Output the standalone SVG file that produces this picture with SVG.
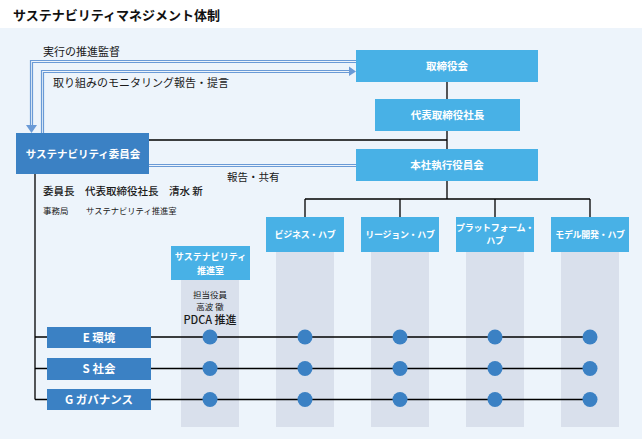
<svg xmlns="http://www.w3.org/2000/svg" width="642" height="439" viewBox="0 0 642 439">
<style>
text{font-family:"Noto Sans CJK JP","Liberation Sans",sans-serif;}
.lb{fill:#48B1E6;}
.db{fill:#3B81C4;}
.wt{fill:#fff;font-weight:bold;text-anchor:middle;}
.bk{fill:#1a1a1a;}
.ln{stroke:#000;stroke-width:1.3;fill:none;}
.dl{stroke:#6A9AD6;stroke-width:1.2;fill:none;}
.col{fill:#D9E0EC;}
.dot{fill:#3B81C4;}
.hub{font-size:9px;letter-spacing:-0.3px;}
</style>
<rect x="0" y="0" width="642" height="439" fill="#fff"/>
<rect x="0" y="28" width="642" height="411" fill="#EDF4FB"/>
<text x="13" y="20" font-size="13" font-weight="bold" fill="#111">サステナビリティマネジメント体制</text>

<g id="columns">
<rect class="col" x="181" y="280" width="58" height="147"/>
<rect class="col" x="276" y="252" width="58" height="175"/>
<rect class="col" x="371" y="252" width="58" height="175"/>
<rect class="col" x="466" y="252" width="58" height="175"/>
<rect class="col" x="561" y="252" width="58" height="175"/>
</g>

<g id="connectors">
<path class="ln" d="M447 82V99M447 131V149M149 140H447"/>
<path class="ln" d="M447 181V199M305 199H590M305 199V217M400 199V217M495 199V217M590 199V217"/>
<path class="ln" d="M35 174V399.5M35 337H47M35 368.5H47M35 399.5H47"/>
<path class="ln" d="M151 337H590M151 368.5H590M151 399.5H590"/>
<path class="dl" d="M356 60.5H30.5V127M356 62.5H32.5V127"/>
<polygon points="26,125 37,125 31.5,133" fill="#6A9AD6"/>
<path class="dl" d="M41.5 133V70.5H350M43.5 133V72.5H350"/>
<polygon points="349,66.5 349,76 356,71.5" fill="#6A9AD6"/>
<path class="dl" d="M149 164.5H356M149 166.5H356"/>
</g>

<text class="bk" x="43" y="56" font-size="11">実行の推進監督</text>
<text class="bk" x="53" y="87" font-size="11">取り組みのモニタリング報告・提言</text>
<text class="bk" x="227" y="181" font-size="10.5">報告・共有</text>

<g id="board">
<rect class="lb" x="356" y="50" width="182" height="32"/>
<text class="wt" x="447" y="70" font-size="10.5">取締役会</text>
</g>
<g id="president">
<rect class="lb" x="375" y="99" width="145" height="32"/>
<text class="wt" x="447.5" y="119" font-size="10.5">代表取締役社長</text>
</g>
<g id="exec">
<rect class="lb" x="356" y="149" width="182" height="32"/>
<text class="wt" x="447" y="169" font-size="10.5">本社執行役員会</text>
</g>
<g id="committee">
<rect class="db" x="16" y="133" width="133" height="41"/>
<text class="wt" x="83" y="157.5" font-size="10.5">サステナビリティ委員会</text>
<text class="bk" x="43" y="195" font-size="10.5" font-weight="500">委員長　代表取締役社長　清水 新</text>
<text class="bk" x="43" y="214" font-size="8.5">事務局</text>
<text class="bk" x="86" y="214" font-size="8.3">サステナビリティ推進室</text>
</g>

<g id="hub1">
<rect class="lb" x="266" y="217" width="78" height="35"/>
<text class="wt hub" x="305" y="238">ビジネス・ハブ</text>
</g>
<g id="hub2">
<rect class="lb" x="361" y="217" width="78" height="35"/>
<text class="wt hub" x="400" y="238">リージョン・ハブ</text>
</g>
<g id="hub3">
<rect class="lb" x="456" y="217" width="78" height="35"/>
<text class="wt hub" x="495" y="231" letter-spacing="-0.9">プラットフォーム・</text>
<text class="wt hub" x="495" y="244">ハブ</text>
</g>
<g id="hub4">
<rect class="lb" x="551" y="217" width="78" height="35"/>
<text class="wt hub" x="590" y="238">モデル開発・ハブ</text>
</g>
<g id="office">
<rect class="lb" x="171" y="246" width="79" height="34"/>
<text class="wt" x="210.5" y="260" font-size="9">サステナビリティ</text>
<text class="wt" x="210.5" y="274" font-size="9">推進室</text>
<text class="bk" x="210" y="298" font-size="8.5" text-anchor="middle">担当役員</text>
<text class="bk" x="210" y="310" font-size="8.5" text-anchor="middle">高波 徹</text>
<text class="bk" x="210" y="324" font-size="11" font-weight="500" text-anchor="middle">PDCA 推進</text>
</g>

<g id="esg-e">
<rect class="db" x="47" y="327" width="104" height="21"/>
<text class="wt" x="99" y="341.5" font-size="11.5">E 環境</text>
</g>
<g id="esg-s">
<rect class="db" x="47" y="358" width="104" height="22"/>
<text class="wt" x="99" y="373" font-size="11.5">S 社会</text>
</g>
<g id="esg-g">
<rect class="db" x="47" y="389" width="104" height="21"/>
<text class="wt" x="99" y="404" font-size="11.5">G ガバナンス</text>
</g>

<g id="dots">
<circle class="dot" cx="210" cy="337" r="7.5"/><circle class="dot" cx="305" cy="337" r="7.5"/><circle class="dot" cx="400" cy="337" r="7.5"/><circle class="dot" cx="495" cy="337" r="7.5"/><circle class="dot" cx="590" cy="337" r="7.5"/>
<circle class="dot" cx="210" cy="368.5" r="7.5"/><circle class="dot" cx="305" cy="368.5" r="7.5"/><circle class="dot" cx="400" cy="368.5" r="7.5"/><circle class="dot" cx="495" cy="368.5" r="7.5"/><circle class="dot" cx="590" cy="368.5" r="7.5"/>
<circle class="dot" cx="210" cy="399.5" r="7.5"/><circle class="dot" cx="305" cy="399.5" r="7.5"/><circle class="dot" cx="400" cy="399.5" r="7.5"/><circle class="dot" cx="495" cy="399.5" r="7.5"/><circle class="dot" cx="590" cy="399.5" r="7.5"/>
</g>
</svg>
